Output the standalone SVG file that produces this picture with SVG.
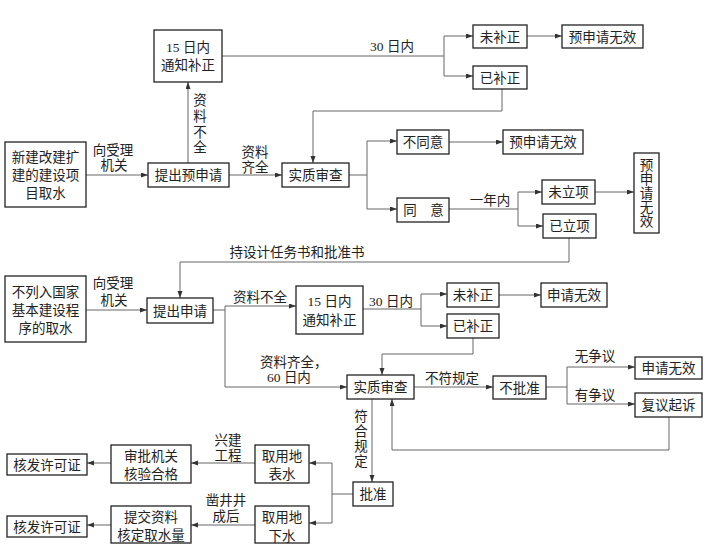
<svg xmlns="http://www.w3.org/2000/svg" width="710" height="547" viewBox="0 0 710 547">
<defs>
<marker id="ah" markerUnits="userSpaceOnUse" markerWidth="8" markerHeight="6" refX="7" refY="2.5" orient="auto">
<path d="M0,0 L7,2.5 L0,5 Z" fill="#333"/>
</marker>
<style>
rect{fill:#fff;stroke:#222;stroke-width:1.3}
text{font-family:"Liberation Serif","Noto Sans CJK SC",serif;font-size:13.5px;fill:#222;text-anchor:middle}
.s{text-anchor:start}
#connectors path{fill:none;stroke:#666;stroke-width:1}
#connectors path.a{marker-end:url(#ah)}
</style>
</defs>
<rect x="0" y="0" width="710" height="547" style="fill:#fff;stroke:none"/>
<g id="connectors">
<path class="a" d="M86,175 H148"/>
<path class="a" d="M188,163 V82"/>
<path class="a" d="M229,175 H282"/>
<path d="M222,56 H444 M444,36 V76"/>
<path class="a" d="M444,36 H473"/>
<path class="a" d="M444,76 H473"/>
<path class="a" d="M527,36 H562"/>
<path class="a" d="M502,89 V111 H313 V163"/>
<path d="M349,175 H367 M367,141 V209"/>
<path class="a" d="M367,141 H397"/>
<path class="a" d="M367,209 H397"/>
<path class="a" d="M449,142 H503"/>
<path d="M449,209 H518 M518,192 V226"/>
<path class="a" d="M518,192 H542"/>
<path class="a" d="M518,226 H543"/>
<path class="a" d="M595,192 H634"/>
<path class="a" d="M569,238 V262 H180 V298"/>
<path class="a" d="M86,310 H147"/>
<path d="M213,310 H225 M225,306 V387"/>
<path class="a" d="M225,306 H296"/>
<path class="a" d="M225,387 H347"/>
<path d="M363,309 H421 M421,294 V326"/>
<path class="a" d="M421,294 H447"/>
<path class="a" d="M421,326 H447"/>
<path class="a" d="M499,295 H541"/>
<path class="a" d="M473,338 V354 H382 V375"/>
<path class="a" d="M414,387 H493"/>
<path d="M546,387 H567 M567,367 V404"/>
<path class="a" d="M567,367 H635"/>
<path class="a" d="M567,404 H635"/>
<path class="a" d="M669,417 V450 H392 V399"/>
<path class="a" d="M372,399 V482"/>
<path d="M353,494 H332 M332,463 V523"/>
<path class="a" d="M332,463 H309"/>
<path class="a" d="M332,523 H309"/>
<path class="a" d="M255,463 H191"/>
<path class="a" d="M111,463 H87"/>
<path class="a" d="M255,525 H191"/>
<path class="a" d="M111,525 H87"/>
</g>
<g id="labels">
<text x="113" y="155">向受理</text><text x="114" y="170">机关</text>
<text x="200" y="105">资</text><text x="200" y="121">料</text><text x="200" y="137">不</text><text x="200" y="152">全</text>
<text x="255" y="157">资料</text><text x="255" y="172">齐全</text>
<text x="392" y="51">30 日内</text>
<text x="490" y="205">一年内</text>
<text x="297" y="257">持设计任务书和批准书</text>
<text x="113" y="288">向受理</text><text x="114" y="305">机关</text>
<text x="260" y="302">资料不全</text>
<text x="391" y="306">30 日内</text>
<text class="s" x="260" y="367">资料齐全，</text>
<text class="s" x="267" y="382">60 日内</text>
<text x="452" y="383">不符规定</text>
<text x="595" y="361">无争议</text>
<text x="595" y="400">有争议</text>
<text x="361" y="421">符</text><text x="361" y="436">合</text><text x="361" y="451">规</text><text x="361" y="466">定</text>
<text x="228" y="445">兴建</text><text x="228" y="460">工程</text>
<text x="226" y="505">凿井井</text><text x="226" y="521">成后</text>
</g>
<g id="n-notify1"><rect x="154" y="30" width="68" height="52"/><text x="188" y="52">15 日内</text><text x="188" y="70">通知补正</text></g>
<g id="n-new"><rect x="5" y="142" width="81" height="65"/><text x="45.5" y="162">新建改建扩</text><text x="45.5" y="180">建的建设项</text><text x="45.5" y="198">目取水</text></g>
<g id="n-preapply"><rect x="148" y="163" width="81" height="24"/><text x="188.5" y="180">提出预申请</text></g>
<g id="n-review1"><rect x="282" y="163" width="67" height="24"/><text x="315.5" y="180">实质审查</text></g>
<g id="n-notfix1"><rect x="473" y="25" width="54" height="23"/><text x="500" y="41.5">未补正</text></g>
<g id="n-invalid1"><rect x="562" y="25" width="81" height="23"/><text x="602.5" y="41.5">预申请无效</text></g>
<g id="n-fixed1"><rect x="473" y="66" width="54" height="23"/><text x="500" y="82.5">已补正</text></g>
<g id="n-disagree"><rect x="397" y="130" width="52" height="24"/><text x="423" y="147">不同意</text></g>
<g id="n-invalid2"><rect x="503" y="130" width="80" height="24"/><text x="543" y="147">预申请无效</text></g>
<g id="n-agree"><rect x="397" y="198" width="52" height="24"/><text x="410" y="215">同</text><text x="437" y="215">意</text></g>
<g id="n-noproj"><rect x="542" y="180" width="53" height="24"/><text x="568.5" y="197">未立项</text></g>
<g id="n-proj"><rect x="543" y="214" width="53" height="24"/><text x="569.5" y="231">已立项</text></g>
<g id="n-invalid3"><rect x="634" y="153" width="25" height="80"/><text x="646.5" y="170">预</text><text x="646.5" y="184">申</text><text x="646.5" y="198">请</text><text x="646.5" y="212">无</text><text x="646.5" y="226">效</text></g>
<g id="n-other"><rect x="5" y="276" width="81" height="66"/><text x="45.5" y="297">不列入国家</text><text x="45.5" y="315">基本建设程</text><text x="45.5" y="333">序的取水</text></g>
<g id="n-apply"><rect x="147" y="298" width="66" height="25"/><text x="180" y="315.5">提出申请</text></g>
<g id="n-notify2"><rect x="296" y="286" width="67" height="48"/><text x="329.5" y="306">15 日内</text><text x="329.5" y="325">通知补正</text></g>
<g id="n-notfix2"><rect x="447" y="283" width="52" height="24"/><text x="473" y="300">未补正</text></g>
<g id="n-invalid4"><rect x="541" y="283" width="66" height="24"/><text x="574" y="300">申请无效</text></g>
<g id="n-fixed2"><rect x="447" y="314" width="52" height="24"/><text x="473" y="331">已补正</text></g>
<g id="n-review2"><rect x="347" y="375" width="67" height="24"/><text x="380.5" y="392">实质审查</text></g>
<g id="n-reject"><rect x="493" y="376" width="53" height="23"/><text x="519.5" y="392.5">不批准</text></g>
<g id="n-invalid5"><rect x="635" y="357" width="67" height="22"/><text x="668.5" y="373">申请无效</text></g>
<g id="n-appeal"><rect x="635" y="393" width="67" height="24"/><text x="668.5" y="410">复议起诉</text></g>
<g id="n-approve"><rect x="353" y="482" width="40" height="24"/><text x="373" y="499">批准</text></g>
<g id="n-surface"><rect x="255" y="445" width="54" height="38"/><text x="282" y="461">取用地</text><text x="282" y="479">表水</text></g>
<g id="n-ground"><rect x="255" y="506" width="54" height="37"/><text x="282" y="522">取用地</text><text x="282" y="541">下水</text></g>
<g id="n-check"><rect x="111" y="445" width="80" height="38"/><text x="151" y="461">审批机关</text><text x="151" y="479">核验合格</text></g>
<g id="n-submit"><rect x="111" y="506" width="80" height="37"/><text x="151" y="522">提交资料</text><text x="151" y="540">核定取水量</text></g>
<g id="n-license1"><rect x="7" y="454" width="80" height="21"/><text x="47" y="469.5">核发许可证</text></g>
<g id="n-license2"><rect x="7" y="516" width="80" height="21"/><text x="47" y="531.5">核发许可证</text></g>
</svg>
